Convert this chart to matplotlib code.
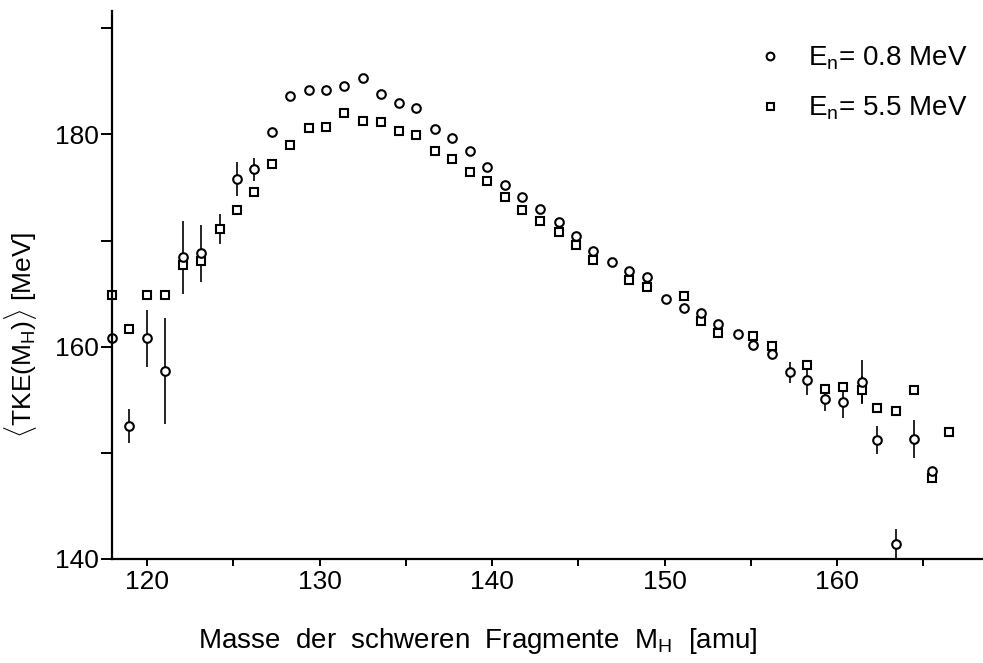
import matplotlib
matplotlib.use('Agg')
import matplotlib.pyplot as plt

plt.rcParams['font.family'] = ['Liberation Sans', 'DejaVu Sans']
plt.rcParams['mathtext.fontset'] = 'custom'
plt.rcParams['mathtext.rm'] = 'Liberation Sans'
plt.rcParams['mathtext.it'] = 'Liberation Sans'

# E_n = 0.8 MeV (circles)
m_low = [117.94, 118.94, 120.0, 121.04, 122.09, 123.11, 125.19, 126.21, 127.23, 128.29,
         129.36, 130.38, 131.43, 132.51, 133.54, 134.58, 135.59, 136.69, 137.69, 138.72,
         139.69, 140.75, 141.75, 142.78, 143.86, 144.87, 145.87, 146.97, 147.96, 149.0,
         150.07, 151.13, 152.10, 153.12, 154.25, 155.12, 156.22, 157.28, 158.28, 159.33,
         160.37, 161.44, 162.31, 163.41, 164.47, 165.50]
tke_low = [160.8, 152.5, 160.8, 157.7, 168.4, 168.8, 175.8, 176.7, 180.2, 183.6,
           184.2, 184.2, 184.6, 185.3, 183.8, 183.0, 182.5, 180.5, 179.7, 178.4,
           176.9, 175.2, 174.1, 173.0, 171.7, 170.4, 169.0, 168.0, 167.1, 166.6,
           164.5, 163.6, 163.2, 162.1, 161.2, 160.2, 159.3, 157.6, 156.9, 155.1,
           154.8, 156.7, 151.2, 141.4, 151.3, 148.3]
err_low = [0, 1.6, 2.7, 5.0, 3.4, 2.7, 1.6, 1.1, 0, 0,
           0, 0, 0, 0, 0, 0, 0, 0, 0, 0,
           0, 0, 0, 0, 0, 0, 0, 0, 0, 0,
           0, 0, 0, 0, 0, 0, 0, 1.0, 1.5, 1.2,
           1.5, 2.0, 1.3, 1.4, 1.8, 0]

# E_n = 5.5 MeV (squares)
m_high = [117.94, 118.94, 120.0, 121.04, 122.09, 123.11, 124.22, 125.19, 126.21, 127.23,
          128.29, 129.36, 130.38, 131.43, 132.51, 133.54, 134.58, 135.59, 136.69, 137.69,
          138.72, 139.69, 140.75, 141.75, 142.78, 143.86, 144.87, 145.87, 147.96, 149.0,
          151.13, 152.10, 153.12, 155.12, 156.22, 158.28, 159.33, 160.37, 161.44, 162.31,
          163.41, 164.47, 165.50, 166.50]
tke_high = [164.9, 161.7, 164.9, 164.9, 167.7, 168.1, 171.1, 172.9, 174.6, 177.2,
            179.0, 180.6, 180.7, 182.0, 181.3, 181.2, 180.3, 179.9, 178.4, 177.7,
            176.5, 175.6, 174.1, 172.9, 171.8, 170.8, 169.6, 168.2, 166.3, 165.6,
            164.8, 162.4, 161.3, 161.0, 160.1, 158.3, 156.0, 156.2, 155.9, 154.2,
            153.9, 155.9, 147.6, 152.0]
err_high = [0, 0, 0, 0, 0, 0, 1.4, 0, 0, 0,
            0, 0, 0, 0, 0, 0, 0, 0, 0, 0,
            0, 0, 0, 0, 0, 0, 0, 0, 0, 0,
            0, 0, 0, 0, 0, 0, 0, 0, 1.3, 0,
            0, 0, 0, 0]

fig = plt.figure(figsize=(9.83, 6.63), dpi=100)
ax = fig.add_axes([0.1136, 0.157, 0.8864, 0.826])

# error bars first, markers on top
ax.errorbar(m_high, tke_high, yerr=err_high, fmt='none', ecolor='black',
            elinewidth=1.2, capsize=0, clip_on=False)
ax.errorbar(m_low, tke_low, yerr=err_low, fmt='none', ecolor='black',
            elinewidth=1.2, capsize=0, clip_on=False)
sq, = ax.plot(m_high, tke_high, 's', ms=5.6, mfc='white', mec='black', mew=1.5,
              clip_on=False, label=r'E$_{\mathrm{n}}$= 5.5 MeV')
ci, = ax.plot(m_low, tke_low, 'o', ms=6.2, mfc='white', mec='black', mew=1.5,
              clip_on=False, label=r'E$_{\mathrm{n}}$= 0.8 MeV')

ax.set_xlim(117.94, 168.47)
ax.set_ylim(140, 191.6)
ax.set_xticks([120, 130, 140, 150, 160])
ax.set_xticks([125, 135, 145, 155, 165], minor=True)
ax.set_yticks([140, 160, 180])
ax.set_yticks([150, 170, 190], minor=True)
ax.tick_params(axis='x', which='both', direction='out', length=5, width=1.4,
               labelsize=19, pad=3)
ax.tick_params(axis='y', which='both', direction='out', length=8, width=1.4,
               labelsize=19, pad=1)

for s in ['top', 'right']:
    ax.spines[s].set_visible(False)
for s in ['left', 'bottom']:
    ax.spines[s].set_linewidth(1.6)

ax.set_xlabel(r'Masse  der  schweren  Fragmente  M$_{\mathrm{H}}$  [amu]', fontsize=20)
ax.xaxis.set_label_coords(0.42, -0.122)
ax.set_ylabel(r'$\langle$TKE(M$_{\mathrm{H}}$)$\rangle$ [MeV]', fontsize=19)
ax.yaxis.set_label_coords(-0.083, 0.41)

leg = ax.legend([ci, sq], [ci.get_label(), sq.get_label()], loc='upper left',
                bbox_to_anchor=(748 / 983, 1 - 31 / 663), bbox_transform=fig.transFigure,
                frameon=False, fontsize=20, borderpad=0, handlelength=0.6,
                handletextpad=1.05, labelspacing=0.8, markerscale=0.9)

fig.savefig('out.png', dpi=100)
